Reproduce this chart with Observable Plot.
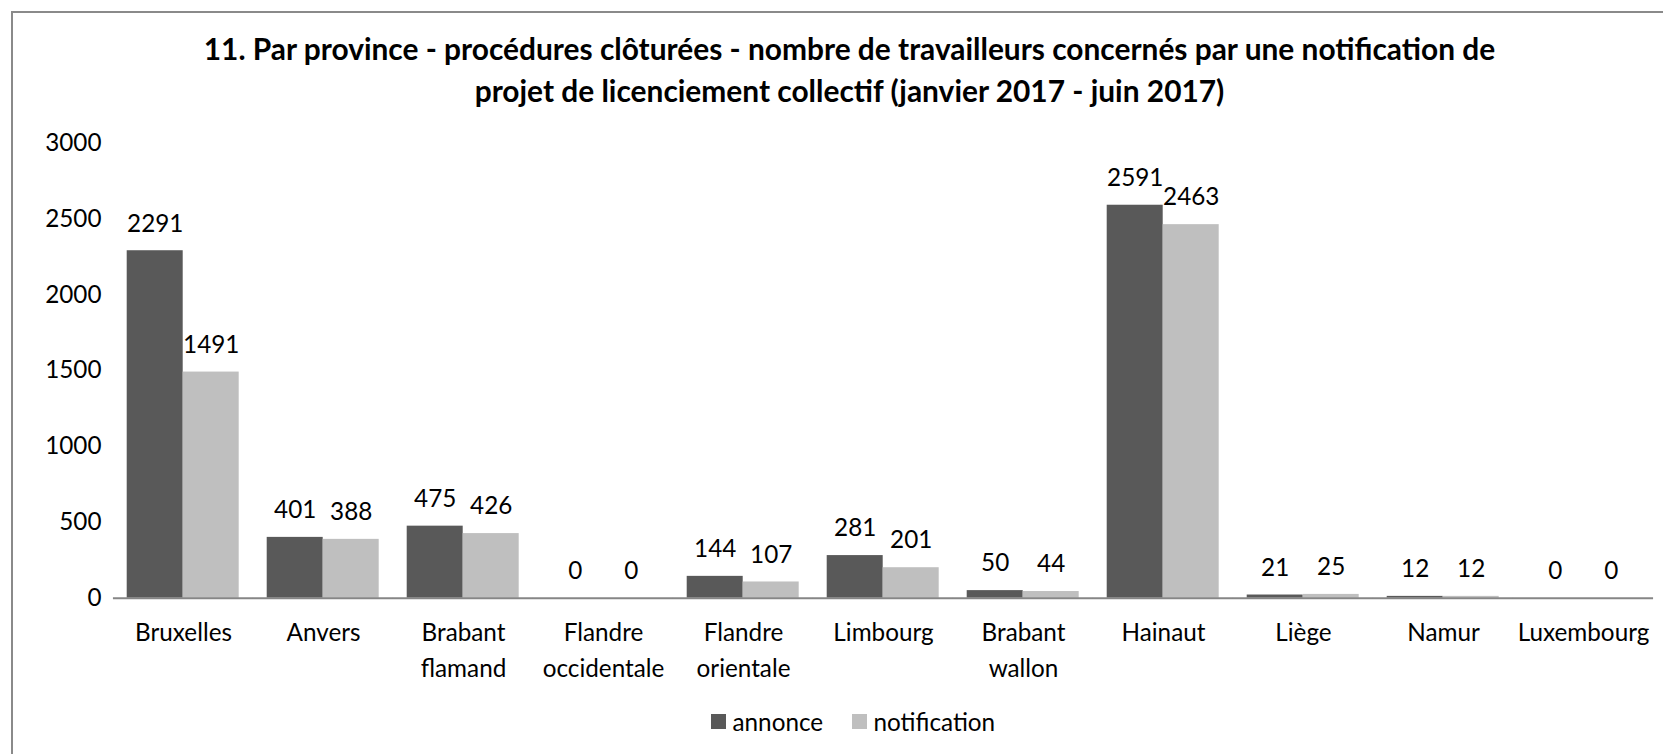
<!DOCTYPE html>
<html>
<head>
<meta charset="utf-8">
<script src="https://cdn.jsdelivr.net/npm/d3@7"></script>
<script src="https://cdn.jsdelivr.net/npm/@observablehq/plot@0.6"></script>
<style>
  html, body { margin: 0; padding: 0; background: #ffffff; overflow: hidden; }
  #wrap { position: relative; width: 1663px; height: 754px; overflow: hidden; background: #fff; font-family: Lato, "Open Sans", sans-serif; color: #000; }
  #frame { position: absolute; left: 11px; top: 11px; right: 0; bottom: 0; border-top: 2px solid #8a8a8a; border-left: 2px solid #8a8a8a; }
  .title { position: absolute; left: 0; width: 1699px; text-align: center; font-weight: bold; white-space: nowrap; color: #000; }
  #chart { position: absolute; left: 0; top: 0; }
  .leg { position: absolute; white-space: nowrap; }
  .sw { position: absolute; width: 15px; height: 15px; }
</style>
</head>
<body>
<div id="wrap">
  <div id="frame"></div>
  <div id="t1" class="title"></div>
  <div id="t2" class="title"></div>
  <div id="chart"></div>
  <div id="legend"></div>
</div>
<script>
// ---- data ----
const titleLines = [
  "11. Par province - procédures clôturées - nombre de travailleurs concernés par une notification de",
  "projet de licenciement collectif (janvier 2017 - juin 2017)"
];
const categories = [
  "Bruxelles", "Anvers", "Brabant\nflamand", "Flandre\noccidentale", "Flandre\norientale",
  "Limbourg", "Brabant\nwallon", "Hainaut", "Liège", "Namur", "Luxembourg"
];
const seriesNames = ["annonce", "notification"];
const annonce      = [2291, 401, 475, 0, 144, 281, 50, 2591, 21, 12, 0];
const notification = [1491, 388, 426, 0, 107, 201, 44, 2463, 25, 12, 0];
const yTicks = [0, 500, 1000, 1500, 2000, 2500, 3000];
const seriesColors = ["#595959", "#bfbfbf"];

// ---- font fitting ----
const ctx = document.createElement("canvas").getContext("2d");
ctx.font = "bold 100px Lato";
const titleSize = 100 * 1293 / ctx.measureText(titleLines[0]).width;
ctx.font = "100px Lato";
const labelSize = 100 * 97 / ctx.measureText("Bruxelles").width;

// ---- title ----
const t1 = document.getElementById("t1"), t2 = document.getElementById("t2");
[t1, t2].forEach((el, i) => {
  el.textContent = titleLines[i];
  el.style.fontSize = titleSize + "px";
  el.style.lineHeight = "40px";
  el.style.top = (i === 0 ? 29 : 71) + "px";
});

// ---- chart ----
const data = categories.flatMap((c, i) => [
  {cat: c, series: seriesNames[0], value: annonce[i]},
  {cat: c, series: seriesNames[1], value: notification[i]}
]);

const W = 1663, H = 690;
const mTop = 142.7, mBottom = H - 597.7, mLeft = 109.3, mRight = W - 1656;
const step = (W - mLeft - mRight) / categories.length;
const halfGap = step * 0.2 / 2;

const chart = Plot.plot({
  width: W,
  height: H,
  marginTop: mTop,
  marginBottom: mBottom,
  marginLeft: mLeft,
  marginRight: mRight,
  style: {fontFamily: "Lato, 'Open Sans', sans-serif", fontSize: labelSize + "px", color: "#000", background: "transparent", overflow: "visible"},
  fx: {domain: categories, paddingInner: 0.2, paddingOuter: 0.1, label: null},
  x: {domain: seriesNames, padding: 0, axis: null},
  y: {domain: [0, 3000], label: null},
  color: {domain: seriesNames, range: seriesColors},
  marks: [
    Plot.axisY({ticks: yTicks, tickFormat: d => String(d), tickSize: 0, tickPadding: 26, label: null, fontSize: labelSize, fill: "#000"}),
    Plot.axisFx({anchor: "bottom", tickSize: 0, tickPadding: 16.5, label: null, fontSize: labelSize, lineHeight: 1.5, fill: "#000"}),
    Plot.barY(data, {fx: "cat", x: "series", y: "value", fill: "series"}),
    Plot.ruleY([0], {stroke: "#868686", strokeWidth: 2, insetLeft: -halfGap, insetRight: -halfGap}),
    Plot.text(data, {fx: "cat", x: "series", y: "value", text: d => String(d.value), dy: -27, fill: "#000", fontSize: labelSize})
  ]
});
document.getElementById("chart").appendChild(chart);

// ---- legend ----
const legend = document.getElementById("legend");
const legendX = [711, 852];
seriesNames.forEach((s, i) => {
  const sw = document.createElement("div");
  sw.className = "sw";
  sw.style.left = legendX[i] + "px";
  sw.style.top = "714px";
  sw.style.background = seriesColors[i];
  legend.appendChild(sw);
  const tx = document.createElement("div");
  tx.className = "leg";
  tx.textContent = s;
  tx.style.left = (legendX[i] + 21.5) + "px";
  tx.style.top = (721.7 - 15) + "px";
  tx.style.fontSize = labelSize + "px";
  tx.style.lineHeight = "30px";
  legend.appendChild(tx);
});
</script>
</body>
</html>
